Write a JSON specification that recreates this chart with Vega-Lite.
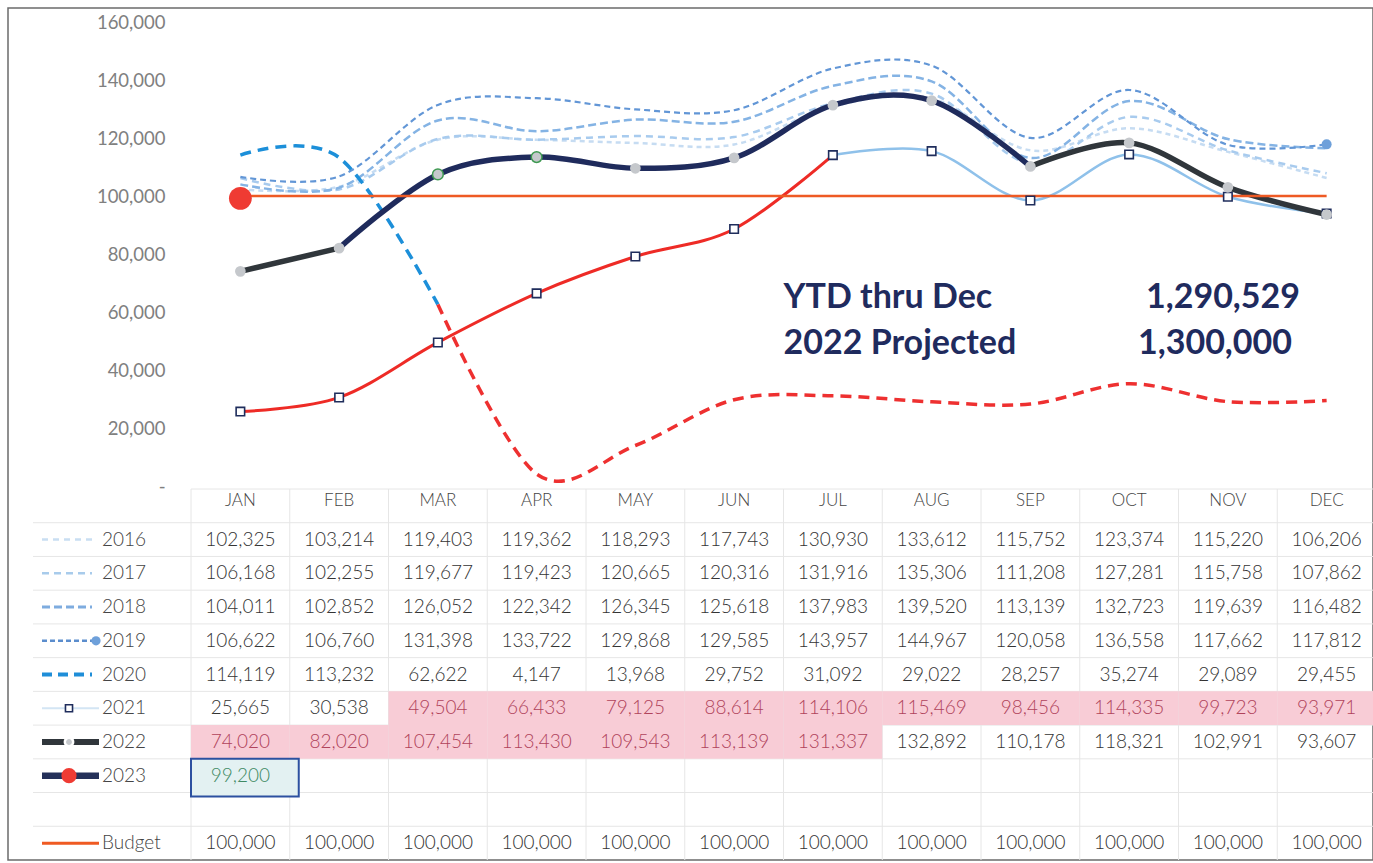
{
"$schema":"https://vega.github.io/schema/vega-lite/v6.json",
"width":1365,"height":852,
"padding":{"left":8,"top":8,"right":0,"bottom":3},
"autosize":{"type":"none"},
"background":"#ffffff",
"datasets":{
"vals":[
{"series":"2016","month":"JAN","value":102325},{"series":"2016","month":"FEB","value":103214},{"series":"2016","month":"MAR","value":119403},{"series":"2016","month":"APR","value":119362},{"series":"2016","month":"MAY","value":118293},{"series":"2016","month":"JUN","value":117743},{"series":"2016","month":"JUL","value":130930},{"series":"2016","month":"AUG","value":133612},{"series":"2016","month":"SEP","value":115752},{"series":"2016","month":"OCT","value":123374},{"series":"2016","month":"NOV","value":115220},{"series":"2016","month":"DEC","value":106206},
{"series":"2017","month":"JAN","value":106168},{"series":"2017","month":"FEB","value":102255},{"series":"2017","month":"MAR","value":119677},{"series":"2017","month":"APR","value":119423},{"series":"2017","month":"MAY","value":120665},{"series":"2017","month":"JUN","value":120316},{"series":"2017","month":"JUL","value":131916},{"series":"2017","month":"AUG","value":135306},{"series":"2017","month":"SEP","value":111208},{"series":"2017","month":"OCT","value":127281},{"series":"2017","month":"NOV","value":115758},{"series":"2017","month":"DEC","value":107862},
{"series":"2018","month":"JAN","value":104011},{"series":"2018","month":"FEB","value":102852},{"series":"2018","month":"MAR","value":126052},{"series":"2018","month":"APR","value":122342},{"series":"2018","month":"MAY","value":126345},{"series":"2018","month":"JUN","value":125618},{"series":"2018","month":"JUL","value":137983},{"series":"2018","month":"AUG","value":139520},{"series":"2018","month":"SEP","value":113139},{"series":"2018","month":"OCT","value":132723},{"series":"2018","month":"NOV","value":119639},{"series":"2018","month":"DEC","value":116482},
{"series":"2019","month":"JAN","value":106622},{"series":"2019","month":"FEB","value":106760},{"series":"2019","month":"MAR","value":131398},{"series":"2019","month":"APR","value":133722},{"series":"2019","month":"MAY","value":129868},{"series":"2019","month":"JUN","value":129585},{"series":"2019","month":"JUL","value":143957},{"series":"2019","month":"AUG","value":144967},{"series":"2019","month":"SEP","value":120058},{"series":"2019","month":"OCT","value":136558},{"series":"2019","month":"NOV","value":117662},{"series":"2019","month":"DEC","value":117812},
{"series":"2020","month":"JAN","value":114119},{"series":"2020","month":"FEB","value":113232},{"series":"2020","month":"MAR","value":62622},{"series":"2020","month":"APR","value":4147},{"series":"2020","month":"MAY","value":13968},{"series":"2020","month":"JUN","value":29752},{"series":"2020","month":"JUL","value":31092},{"series":"2020","month":"AUG","value":29022},{"series":"2020","month":"SEP","value":28257},{"series":"2020","month":"OCT","value":35274},{"series":"2020","month":"NOV","value":29089},{"series":"2020","month":"DEC","value":29455},
{"series":"2021","month":"JAN","value":25665},{"series":"2021","month":"FEB","value":30538},{"series":"2021","month":"MAR","value":49504},{"series":"2021","month":"APR","value":66433},{"series":"2021","month":"MAY","value":79125},{"series":"2021","month":"JUN","value":88614},{"series":"2021","month":"JUL","value":114106},{"series":"2021","month":"AUG","value":115469},{"series":"2021","month":"SEP","value":98456},{"series":"2021","month":"OCT","value":114335},{"series":"2021","month":"NOV","value":99723},{"series":"2021","month":"DEC","value":93971},
{"series":"2022","month":"JAN","value":74020},{"series":"2022","month":"FEB","value":82020},{"series":"2022","month":"MAR","value":107454},{"series":"2022","month":"APR","value":113430},{"series":"2022","month":"MAY","value":109543},{"series":"2022","month":"JUN","value":113139},{"series":"2022","month":"JUL","value":131337},{"series":"2022","month":"AUG","value":132892},{"series":"2022","month":"SEP","value":110178},{"series":"2022","month":"OCT","value":118321},{"series":"2022","month":"NOV","value":102991},{"series":"2022","month":"DEC","value":93607},
{"series":"2023","month":"JAN","value":99200},
{"series":"Budget","month":"JAN","value":100000},{"series":"Budget","month":"FEB","value":100000},{"series":"Budget","month":"MAR","value":100000},{"series":"Budget","month":"APR","value":100000},{"series":"Budget","month":"MAY","value":100000},{"series":"Budget","month":"JUN","value":100000},{"series":"Budget","month":"JUL","value":100000},{"series":"Budget","month":"AUG","value":100000},{"series":"Budget","month":"SEP","value":100000},{"series":"Budget","month":"OCT","value":100000},{"series":"Budget","month":"NOV","value":100000},{"series":"Budget","month":"DEC","value":100000}
]
},
"data":{"name":"vals"},
"resolve":{"scale":{"y":"independent"},"axis":{"y":"independent"}},
"layer":[
{
"encoding":{
"x":{"field":"month","type":"nominal","bandPosition":0.5,"scale":{"type":"band","domain":["JAN","FEB","MAR","APR","MAY","JUN","JUL","AUG","SEP","OCT","NOV","DEC"],"range":[183,1368],"paddingInner":0,"paddingOuter":0},"axis":null},
"y":{"field":"value","type":"quantitative","scale":{"domain":[0,160000],"range":[478,14],"nice":false},"axis":{"orient":"left","offset":-157,"values":[0,20000,40000,60000,80000,100000,120000,140000,160000],"labelExpr":"datum.value == 0 ? '-' : format(datum.value, ',')","domain":false,"ticks":false,"tickSize":0,"grid":false,"labelPadding":0,"labelFont":"Lato","labelFontSize":18.5,"labelColor":"#808080","title":null}}
},
"layer":[
{"transform":[{"filter":"datum.series=='2016'"}],"mark":{"type":"line","interpolate":"cardinal","color":"#c6dcf2","strokeWidth":2.5,"strokeDash":[5,4]}},
{"transform":[{"filter":"datum.series=='2017'"}],"mark":{"type":"line","interpolate":"cardinal","color":"#a8cbee","strokeWidth":2.5,"strokeDash":[7,5]}},
{"transform":[{"filter":"datum.series=='2018'"}],"mark":{"type":"line","interpolate":"cardinal","color":"#84b3e4","strokeWidth":2.5,"strokeDash":[8,4]}},
{"transform":[{"filter":"datum.series=='2019'"}],"mark":{"type":"line","interpolate":"cardinal","color":"#6296d6","strokeWidth":2.2,"strokeDash":[6,4]}},
{"transform":[{"filter":"datum.series=='2019' && datum.month=='DEC'"}],"mark":{"type":"point","shape":"circle","filled":true,"color":"#6ea0da","size":100,"opacity":1}},
{"transform":[{"filter":"datum.series=='2020' && indexof(['JAN','FEB','MAR'],datum.month)>=0"}],"mark":{"type":"line","interpolate":"cardinal","color":"#1c8fd9","strokeWidth":3.5,"strokeDash":[11,7]}},
{"transform":[{"filter":"datum.series=='2020' && indexof(['JAN','FEB'],datum.month)<0"}],"mark":{"type":"line","interpolate":"cardinal","color":"#ee3030","strokeWidth":3.5,"strokeDash":[11,7]}},
{"transform":[{"filter":"datum.series=='2021' && indexof(['JUL','AUG','SEP','OCT','NOV','DEC'],datum.month)>=0"}],"mark":{"type":"line","interpolate":"cardinal","color":"#8fc1ea","strokeWidth":2.5}},
{"transform":[{"filter":"datum.series=='2021' && indexof(['JAN','FEB','MAR','APR','MAY','JUN','JUL'],datum.month)>=0"}],"mark":{"type":"line","interpolate":"cardinal","color":"#ee2b26","strokeWidth":3}},
{"transform":[{"filter":"datum.series=='2022' && indexof(['JAN','FEB'],datum.month)>=0"}],"mark":{"type":"line","interpolate":"cardinal","color":"#30363b","strokeWidth":5.5}},
{"transform":[{"filter":"datum.series=='2022' && indexof(['SEP','OCT','NOV','DEC'],datum.month)>=0"}],"mark":{"type":"line","interpolate":"cardinal","color":"#30363b","strokeWidth":5.5}},
{"transform":[{"filter":"datum.series=='2022' && indexof(['FEB','MAR','APR','MAY','JUN','JUL','AUG','SEP'],datum.month)>=0"}],"mark":{"type":"line","interpolate":"cardinal","color":"#1f2b5c","strokeWidth":5.5}},
{"transform":[{"filter":"datum.series=='Budget'"}],"mark":{"type":"line","color":"#ee5a24","strokeWidth":2.5}},
{"transform":[{"filter":"datum.series=='2021'"}],"mark":{"type":"point","shape":"square","filled":true,"fill":"#ffffff","stroke":"#1f2d5c","strokeWidth":1.6,"size":72,"opacity":1}},
{"transform":[{"filter":"datum.series=='2022'"}],"mark":{"type":"point","shape":"circle","filled":true,"color":"#c5c8cc","size":115,"opacity":1}},
{"transform":[{"filter":"datum.series=='2022' && indexof(['MAR','APR'],datum.month)>=0"}],"mark":{"type":"point","shape":"circle","filled":true,"fill":"#c5c8cc","stroke":"#3f9a52","strokeWidth":1.5,"size":115,"opacity":1}},
{"transform":[{"filter":"datum.series=='2023'"}],"mark":{"type":"point","shape":"circle","filled":true,"color":"#ef3b33","size":520,"opacity":1}}
]
},
{
"data":{"values":[{"label":"YTD thru Dec","amount":1290529},{"label":"2022 Projected","amount":1300000}]},
"encoding":{
"x":{"datum":"JUL","type":"nominal","scale":{"type":"band","domain":["JAN","FEB","MAR","APR","MAY","JUN","JUL","AUG","SEP","OCT","NOV","DEC"],"range":[183,1368],"paddingInner":0,"paddingOuter":0},"axis":null},
"y":{"datum":64800,"type":"quantitative","scale":{"domain":[0,160000],"range":[478,14],"nice":false},"axis":null}
},
"layer":[
{"transform":[{"filter":"datum.label=='YTD thru Dec'"}],"mark":{"type":"text","align":"left","baseline":"middle","font":"Lato","fontSize":34,"fontWeight":"bold","color":"#1f2b5e"},"encoding":{"x":{"datum":"JUL","type":"nominal","bandPosition":0},"text":{"field":"label","type":"nominal"}}},
{"transform":[{"filter":"datum.label=='YTD thru Dec'"}],"mark":{"type":"text","align":"right","baseline":"middle","font":"Lato","fontSize":34,"fontWeight":"bold","color":"#1f2b5e"},"encoding":{"x":{"datum":"DEC","type":"nominal","bandPosition":0.23},"text":{"field":"amount","type":"quantitative","format":","}}},
{"transform":[{"filter":"datum.label=='2022 Projected'"}],"mark":{"type":"text","align":"left","baseline":"middle","font":"Lato","fontSize":34,"fontWeight":"bold","color":"#1f2b5e"},"encoding":{"x":{"datum":"JUL","type":"nominal","bandPosition":0},"y":{"datum":49000,"type":"quantitative"},"text":{"field":"label","type":"nominal"}}},
{"transform":[{"filter":"datum.label=='2022 Projected'"}],"mark":{"type":"text","align":"right","baseline":"middle","font":"Lato","fontSize":34,"fontWeight":"bold","color":"#1f2b5e","dx":-8},"encoding":{"x":{"datum":"DEC","type":"nominal","bandPosition":0.23},"y":{"datum":49000,"type":"quantitative"},"text":{"field":"amount","type":"quantitative","format":","}}}
]
},
{
"encoding":{
"x":{"field":"month","type":"nominal","scale":{"type":"band","domain":["JAN","FEB","MAR","APR","MAY","JUN","JUL","AUG","SEP","OCT","NOV","DEC"],"range":[183,1368],"paddingInner":0,"paddingOuter":0},"axis":null},
"y":{"field":"series","type":"nominal","scale":{"type":"band","domain":["hdr","2016","2017","2018","2019","2020","2021","2022","2023","blank","Budget"],"range":[481,852],"paddingInner":0,"paddingOuter":0},"axis":null}
},
"layer":[
{"transform":[{"filter":"datum.series=='Budget'"}],"mark":{"type":"rule","color":"#e6e6e6","strokeWidth":1},"encoding":{"x":{"field":"month","type":"nominal","bandPosition":0},"y":{"datum":"hdr","type":"nominal","bandPosition":0},"y2":{"datum":"Budget","bandPosition":1}}},
{"transform":[{"filter":"datum.month=='JAN'"}],"mark":{"type":"rule","color":"#e6e6e6","strokeWidth":1,"xOffset":-158},"encoding":{"x":{"datum":"JAN","type":"nominal","bandPosition":0},"x2":{"datum":"DEC","bandPosition":1},"y":{"field":"series","type":"nominal","bandPosition":0}}},
{"transform":[{"filter":"datum.month=='JAN' && datum.series=='Budget'"}],"mark":{"type":"rule","color":"#e6e6e6","strokeWidth":1,"xOffset":-158},"encoding":{"x":{"datum":"JAN","type":"nominal","bandPosition":0},"x2":{"datum":"DEC","bandPosition":1},"y":{"datum":"blank","type":"nominal","bandPosition":0}}},
{"transform":[{"filter":"datum.month=='JAN' && datum.series=='Budget'"}],"mark":{"type":"rule","color":"#e6e6e6","strokeWidth":1},"encoding":{"x":{"datum":"JAN","type":"nominal","bandPosition":0},"x2":{"datum":"DEC","bandPosition":1},"y":{"datum":"hdr","type":"nominal","bandPosition":0}}},
{"transform":[{"filter":"(datum.series=='2021' && indexof(['MAR','APR','MAY','JUN','JUL','AUG','SEP','OCT','NOV','DEC'], datum.month)>=0) || (datum.series=='2022' && indexof(['JAN','FEB','MAR','APR','MAY','JUN','JUL'], datum.month)>=0)"}],"mark":{"type":"rect","color":"#f8ccd6"}},
{"transform":[{"filter":"datum.series=='2023'"}],"mark":{"type":"rect","fill":"#e3f1f2","stroke":"#2c50a0","strokeWidth":2,"x2Offset":9,"y2Offset":4},"encoding":{"x":{"field":"month","type":"nominal","bandPosition":0},"x2":{"field":"month","bandPosition":1},"y":{"field":"series","type":"nominal","bandPosition":0},"y2":{"field":"series","bandPosition":1}}},
{"mark":{"type":"text","font":"Lato","fontSize":19,"fontWeight":300,"baseline":"middle","align":"center"},"encoding":{"x":{"field":"month","type":"nominal","bandPosition":0.5},"y":{"field":"series","type":"nominal","bandPosition":0.5},"text":{"field":"value","type":"quantitative","format":","},"color":{"condition":[{"test":"(datum.series=='2021' && indexof(['MAR','APR','MAY','JUN','JUL','AUG','SEP','OCT','NOV','DEC'], datum.month)>=0) || (datum.series=='2022' && indexof(['JAN','FEB','MAR','APR','MAY','JUN','JUL'], datum.month)>=0)","value":"#b0435b"},{"test":"datum.series=='2023'","value":"#3f8a64"}],"value":"#333333"}}},
{"transform":[{"filter":"datum.series=='Budget'"}],"mark":{"type":"text","font":"Lato","fontSize":17,"fontWeight":300,"color":"#444444","dy":-5,"baseline":"middle","align":"center"},"encoding":{"x":{"field":"month","type":"nominal","bandPosition":0.5},"y":{"datum":"hdr","type":"nominal","bandPosition":0.5},"text":{"field":"month"}}},
{"transform":[{"filter":"datum.month=='JAN'"}],"mark":{"type":"text","font":"Lato","fontSize":19,"fontWeight":300,"color":"#444444","align":"left","baseline":"middle","dx":-89},"encoding":{"x":{"datum":"JAN","type":"nominal","bandPosition":0},"y":{"field":"series","type":"nominal","bandPosition":0.5},"text":{"field":"series"}}},
{"transform":[{"filter":"datum.month=='JAN' && indexof(['2016','2017','2018','2019','2020'], datum.series)>=0"}],"mark":{"type":"rule","xOffset":-149,"x2Offset":-99},"encoding":{"x":{"datum":"JAN","type":"nominal","bandPosition":0},"x2":{"datum":"JAN","bandPosition":0},"y":{"field":"series","type":"nominal","bandPosition":0.5},
"color":{"field":"series","type":"nominal","scale":{"type":"ordinal","domain":["2016","2017","2018","2019","2020","2021","2022","2023","Budget"],"range":["#c9def2","#a8cbeb","#7eacdf","#5b8dcd","#1f8ed8","#d3e5f4","#30363b","#243059","#ef5a22"]},"legend":null},
"strokeDash":{"field":"series","type":"nominal","scale":{"type":"ordinal","domain":["2016","2017","2018","2019","2020","2021","2022","2023","Budget"],"range":[[6,5],[7,5],[8,4],[5,3],[10,6],[1,0],[1,0],[1,0],[1,0]]},"legend":null},
"strokeWidth":{"field":"series","type":"ordinal","scale":{"type":"ordinal","domain":["2016","2017","2018","2019","2020","2021","2022","2023","Budget"],"range":[2.5,2.5,3,2.5,4,2,6,6.5,3]},"legend":null}}},
{"transform":[{"filter":"datum.month=='JAN' && indexof(['2021','2022','2023','Budget'], datum.series)>=0"}],"mark":{"type":"rule","xOffset":-149,"x2Offset":-92},"encoding":{"x":{"datum":"JAN","type":"nominal","bandPosition":0},"x2":{"datum":"JAN","bandPosition":0},"y":{"field":"series","type":"nominal","bandPosition":0.5},
"color":{"field":"series","type":"nominal","scale":{"type":"ordinal","domain":["2016","2017","2018","2019","2020","2021","2022","2023","Budget"],"range":["#c9def2","#a8cbeb","#7eacdf","#5b8dcd","#1f8ed8","#d3e5f4","#30363b","#243059","#ef5a22"]},"legend":null},
"strokeDash":{"field":"series","type":"nominal","scale":{"type":"ordinal","domain":["2016","2017","2018","2019","2020","2021","2022","2023","Budget"],"range":[[6,5],[7,5],[8,4],[5,3],[10,6],[1,0],[1,0],[1,0],[1,0]]},"legend":null},
"strokeWidth":{"field":"series","type":"ordinal","scale":{"type":"ordinal","domain":["2016","2017","2018","2019","2020","2021","2022","2023","Budget"],"range":[2.5,2.5,3,2.5,4,2,6,6.5,3]},"legend":null}}},
{"transform":[{"filter":"datum.month=='JAN' && datum.series=='2019'"}],"mark":{"type":"point","shape":"circle","filled":true,"color":"#6ea0da","size":85,"opacity":1,"xOffset":-95},"encoding":{"x":{"datum":"JAN","type":"nominal","bandPosition":0},"y":{"field":"series","type":"nominal","bandPosition":0.5}}},
{"transform":[{"filter":"datum.month=='JAN' && datum.series=='2021'"}],"mark":{"type":"point","shape":"square","filled":true,"fill":"#ffffff","stroke":"#1f2d5c","strokeWidth":1.6,"size":50,"opacity":1,"xOffset":-122},"encoding":{"x":{"datum":"JAN","type":"nominal","bandPosition":0},"y":{"field":"series","type":"nominal","bandPosition":0.5}}},
{"transform":[{"filter":"datum.month=='JAN' && datum.series=='2022'"}],"mark":{"type":"point","shape":"circle","filled":true,"fill":"#c5c8cc","stroke":"#ffffff","strokeWidth":2.5,"size":70,"opacity":1,"xOffset":-122},"encoding":{"x":{"datum":"JAN","type":"nominal","bandPosition":0},"y":{"field":"series","type":"nominal","bandPosition":0.5}}},
{"transform":[{"filter":"datum.month=='JAN' && datum.series=='2023'"}],"mark":{"type":"point","shape":"circle","filled":true,"color":"#ef3b33","size":230,"opacity":1,"xOffset":-122},"encoding":{"x":{"datum":"JAN","type":"nominal","bandPosition":0},"y":{"field":"series","type":"nominal","bandPosition":0.5}}}
]
}
],
"config":{"view":{"stroke":"#6b6b6b","strokeWidth":1.5},"font":"Lato"}
}
